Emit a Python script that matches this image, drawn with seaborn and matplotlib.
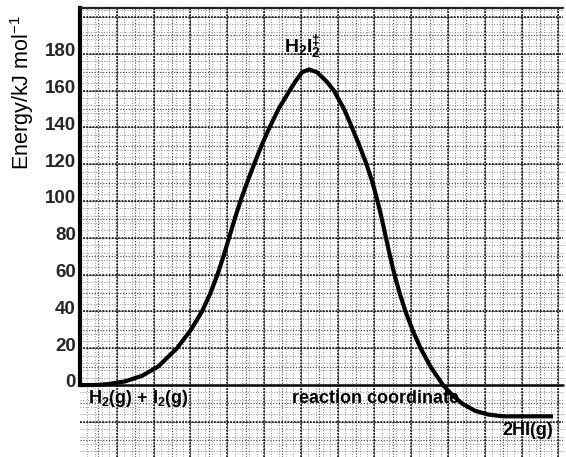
import numpy as np
import matplotlib
matplotlib.use("Agg")
import matplotlib.pyplot as plt
import matplotlib.transforms as mtransforms
from matplotlib.ticker import FixedLocator, FixedFormatter
import seaborn as sns

# Energy profile for H2(g) + I2(g) -> 2HI(g)
reaction_coord = [0, 8.2, 15.2, 24.5, 33.7, 42.4, 52.7, 60.3, 66.3, 70.9, 74.7,
                  78.0, 81.0, 84.0, 87.2, 90.8, 94.6, 98.6, 103.0, 107.9,
                  113.9, 117.1, 120.7, 124.5, 128.8, 134.0, 138.0, 143.5,
                  147.8, 151.9, 155.7, 159.0, 161.7, 164.1, 166.3, 168.5,
                  170.9, 173.7, 176.9, 180.7, 185.1, 190.5, 197.3, 201.9,
                  207.6, 214.7, 221.8, 229.9, 257.1]
energy = [0, 0, 0.5, 2, 5, 10, 20, 30, 40, 50, 60,
          70, 80, 90, 100, 110, 120, 130, 140, 150,
          160, 165, 170, 171.5, 170, 165, 160, 150,
          140, 130, 120, 110, 100, 90, 80, 70,
          60, 50, 40, 30, 20, 10, 0, -5,
          -10, -14, -16, -17, -17]

energy_ticks = [0, 20, 40, 60, 80, 100, 120, 140, 160, 180]
reactant_label = "H$_2$(g) + I$_2$(g)"
product_label = "2HI(g)"
ts_label = "H$_2$I$_2^{\u2021}$"
x_label = "reaction coordinate"
y_label = "Energy/kJ mol$^{-1}$"

sns.set_style("white")
plt.rcParams["font.family"] = ["Liberation Sans", "DejaVu Sans"]
plt.rcParams["mathtext.default"] = "regular"

fig = plt.figure(figsize=(5.66, 4.57), dpi=100)
ax = fig.add_axes([80 / 566, 0.0, 483 / 566, 1 - 8 / 457])

x_max = 262.5
y_min, y_max = -39.1, 204.9
ax.set_xlim(0, x_max)
ax.set_ylim(y_min, y_max)

# graph-paper grid: fine, medium and heavy dotted rulings
for step, col, lw, dash in [(4, "#7a7a7a", 0.65, (0, (1, 1.9))),
                            (10, "#4a4a4a", 0.85, (0, (1, 1.4))),
                            (20, "#111111", 1.15, (0, (1.1, 0.9)))]:
    for gx in np.arange(step, x_max, step):
        ax.axvline(gx, color=col, lw=lw, linestyle=dash, zorder=0.5)
    for gy in np.arange(-40 + step, y_max, step):
        if abs(gy) > 1e-9:
            ax.axhline(gy, color=col, lw=lw, linestyle=dash, zorder=0.5)

sns.lineplot(x=reaction_coord, y=energy, ax=ax, color="black", lw=3.0,
             zorder=3)
profile = ax.get_lines()[-1]
profile.set_solid_joinstyle("round")
profile.set_solid_capstyle("butt")

ax.axhline(0, color="black", lw=1.8, zorder=2, clip_on=False)

for side in ["right", "bottom"]:
    ax.spines[side].set_visible(False)
ax.spines["top"].set_color("#222222")
ax.spines["top"].set_linestyle((0, (1.2, 0.8)))
ax.spines["top"].set_linewidth(1.6)
ax.spines["left"].set_color("black")
ax.spines["left"].set_linewidth(3.0)
ax.spines["left"].set_bounds(0, y_max)

ax.xaxis.set_major_locator(FixedLocator([]))
ax.yaxis.set_major_locator(FixedLocator(energy_ticks))
ax.yaxis.set_major_formatter(FixedFormatter([str(t) for t in energy_ticks]))
ax.tick_params(axis="y", length=0, pad=3, labelsize=13.5)
offset = mtransforms.ScaledTranslation(0, 3 / 72, fig.dpi_scale_trans)
for lab in ax.get_yticklabels():
    lab.set_fontweight("bold")
    lab.set_transform(lab.get_transform() + offset)

txt = dict(color="black", fontsize=13, fontweight="bold", zorder=4)
ax.text(4.3, -7.3, reactant_label, ha="left", va="center", **txt)
ax.text(115, -7.3, x_label, ha="left", va="center", **txt)
ax.text(257, -24.5, product_label, ha="right", va="center", **txt)
ax.text(121, 183.5, ts_label, ha="center", va="center", fontsize=14,
        fontweight="bold", color="black", zorder=4)

fig.text(22 / 566, 1 - 15 / 457, y_label, rotation=90, ha="center", va="top",
         fontsize=15.5, color="black")

fig.savefig("out.png", dpi=100)
